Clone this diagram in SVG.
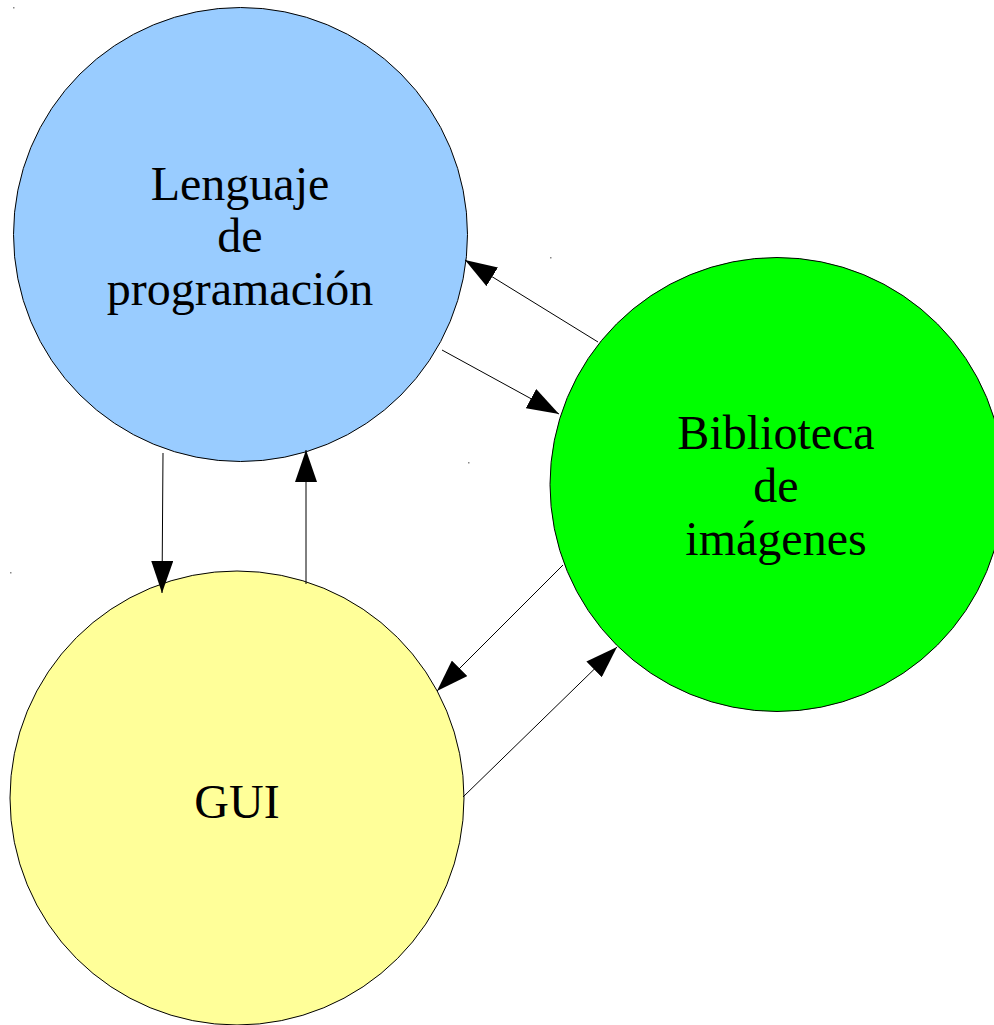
<svg xmlns="http://www.w3.org/2000/svg" width="994" height="1025" viewBox="0 0 994 1025">
<style>
.node{stroke:#000;stroke-width:1}
.lbl{font-family:"Liberation Serif","Times New Roman",serif;font-size:48px;fill:#000;text-anchor:middle}
.conn{stroke:#000;stroke-width:1;fill:none;marker-end:url(#ah)}
.mark{fill:#888}
</style>
<defs>
<marker id="ah" markerUnits="userSpaceOnUse" markerWidth="32" markerHeight="22" refX="32" refY="11" orient="auto" viewBox="0 0 32 22">
<path d="M0,0 L32,11 L0,22 z" fill="#000"/>
</marker>
</defs>
<rect width="994" height="1025" fill="#fff"/>
<g id="marks">
<rect class="mark" x="13" y="7" width="1.5" height="1.5"/>
<rect class="mark" x="550" y="257" width="1.5" height="1.5"/>
<rect class="mark" x="468" y="462" width="1.5" height="1.5"/>
<rect class="mark" x="10" y="572" width="1.5" height="1.5"/>
</g>
<g id="lenguaje">
<circle class="node" cx="240.5" cy="234.5" r="227" fill="#99ccff"/>
<text class="lbl" x="240" y="200">Lenguaje</text>
<text class="lbl" x="240" y="252">de</text>
<text class="lbl" x="240" y="305">programación</text>
</g>
<g id="biblioteca">
<circle class="node" cx="777" cy="484.5" r="227" fill="#00ff00"/>
<text class="lbl" x="776" y="449">Biblioteca</text>
<text class="lbl" x="776" y="502">de</text>
<text class="lbl" x="776" y="555">imágenes</text>
</g>
<g id="gui">
<circle class="node" cx="237" cy="798" r="227" fill="#ffff99"/>
<text class="lbl" x="237" y="818">GUI</text>
</g>
<g id="connectors">
<line class="conn" x1="598" y1="342" x2="465" y2="260"/>
<line class="conn" x1="442" y1="350" x2="559" y2="414"/>
<line class="conn" x1="163" y1="453" x2="162" y2="593"/>
<line class="conn" x1="306" y1="584" x2="306" y2="450"/>
<line class="conn" x1="563" y1="565" x2="437" y2="691"/>
<line class="conn" x1="463" y1="797" x2="617" y2="647"/>
</g>
</svg>
